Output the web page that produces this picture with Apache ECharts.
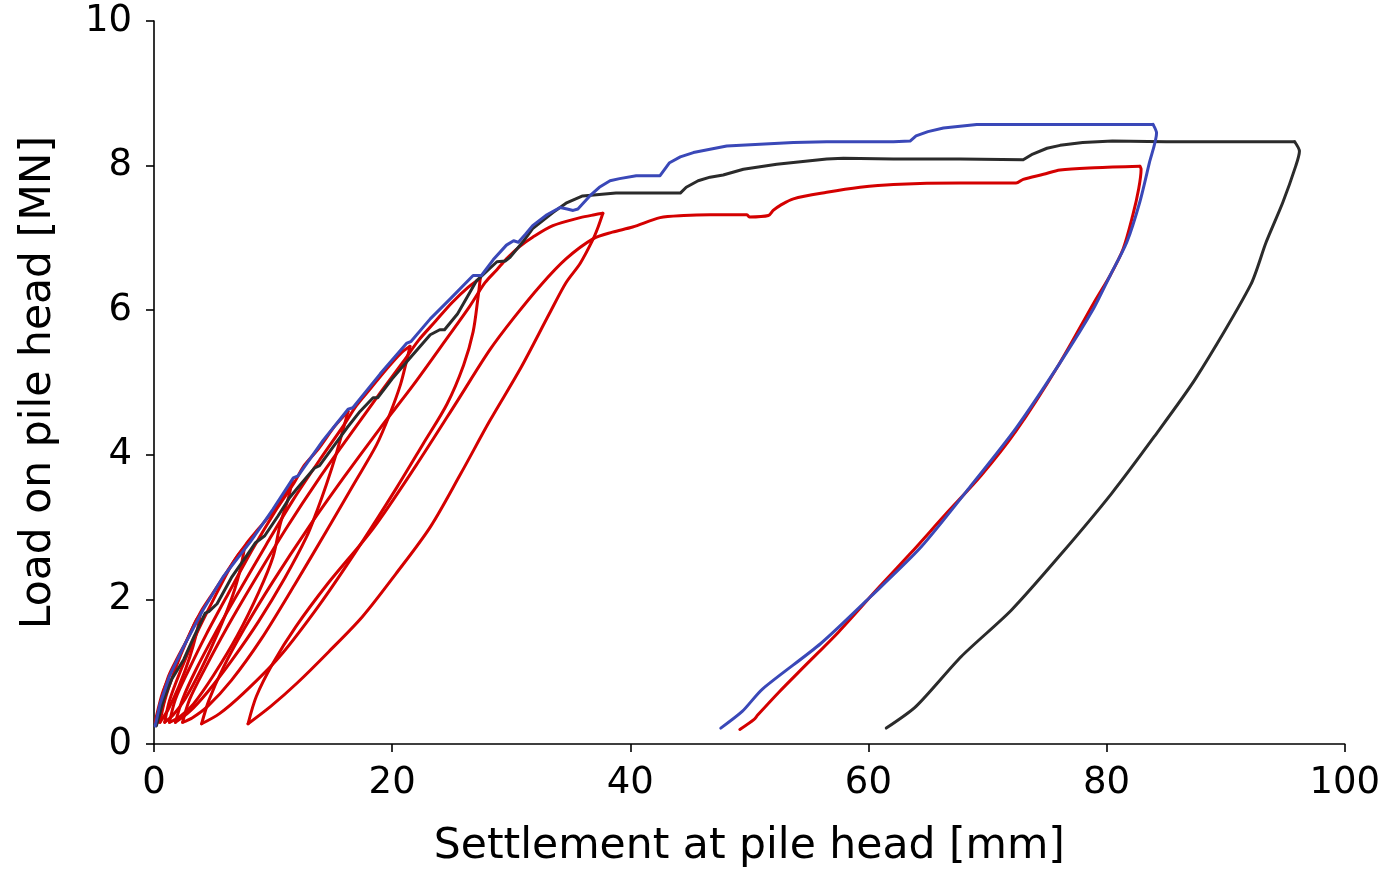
<!DOCTYPE html>
<html>
<head>
<meta charset="utf-8">
<script src="https://cdn.jsdelivr.net/npm/echarts@6/dist/echarts.min.js"></script>
<style>html,body{margin:0;padding:0;background:#fff}#c{width:1383px;height:873px}</style>
</head>
<body>
<div id="c"></div>
<script>
// ---- Data (settlement mm, load MN) ----
const xTicks = [0, 20, 40, 60, 80, 100];
const yTicks = [0, 2, 4, 6, 8, 10];

const blueLoading = [[0.1,0.25],[0.5,0.55],[1.3,0.94],[2.5,1.35],[4.1,1.85],[5.8,2.31],[8.1,2.8],[10,3.25],[11.7,3.68],[12.1,3.71],[14.2,4.2],[16.3,4.63],[16.7,4.65],[19,5.12],[21.2,5.54],[21.6,5.57],[23.2,5.88],[24.9,6.16],[26.8,6.48],[27.5,6.48],[28.5,6.7],[29.6,6.9],[30.2,6.96],[30.6,6.94],[31.2,7.05],[31.8,7.17],[33.0,7.32],[34.1,7.42],[34.7,7.40],[35.2,7.38],[35.6,7.40],[36.6,7.58],[37.4,7.70],[38.3,7.79],[39.1,7.82],[40.5,7.86],[42.5,7.86],[43.3,8.04],[44.2,8.12],[45.3,8.18],[48.1,8.27],[53.7,8.32],[56.5,8.33],[62.1,8.33],[63.5,8.34],[64.0,8.41],[65.0,8.47],[66.3,8.52],[69.1,8.57],[76.1,8.57],[83.9,8.57]];
const blueUnloading = [[83.9,8.57],[84.2,8.45],[83.6,8.04],[82.8,7.50],[81.7,6.94],[80.3,6.48],[78.9,6.02],[76.2,5.30],[72.4,4.37],[68.5,3.55],[64.4,2.72],[60.2,2.04],[56.0,1.39],[51.1,0.76],[49.4,0.45],[47.6,0.22]];

const blackLoading = [[0.2,0.25],[0.8,0.61],[1.5,0.9],[2.5,1.17],[3.4,1.5],[4.3,1.81],[4.6,1.83],[5.3,1.94],[6.5,2.3],[7.8,2.61],[8.5,2.78],[9.3,2.88],[10.4,3.15],[11.4,3.41],[12.0,3.53],[13.5,3.82],[13.9,3.85],[15.0,4.1],[16.2,4.37],[17.3,4.6],[18.4,4.79],[18.8,4.79],[20.0,5.05],[21.5,5.34],[23.2,5.66],[24.0,5.73],[24.4,5.73],[25.5,5.95],[27.1,6.41],[28.8,6.67],[29.5,6.68],[29.9,6.73],[31.0,6.95],[31.8,7.13],[33.5,7.35],[34.6,7.48],[36.0,7.58],[38.8,7.62],[42.5,7.62],[44.2,7.62],[44.7,7.70],[45.7,7.79],[46.7,7.84],[47.8,7.87],[49.5,7.95],[52.3,8.02],[56.5,8.09],[57.9,8.10],[62.1,8.09],[67.7,8.09],[73.0,8.08],[73.8,8.16],[75.0,8.24],[76.1,8.28],[78.0,8.32],[80.5,8.34],[85,8.33],[90,8.33],[95.8,8.33]];
const blackUnloading = [[95.8,8.33],[96.2,8.2],[95.9,8.0],[94.8,7.49],[93.4,6.94],[92.1,6.35],[87.5,5.06],[84.0,4.25],[80.4,3.46],[76.2,2.63],[72.0,1.85],[67.8,1.21],[64.0,0.52],[61.5,0.22]];

const redStart = [[0.1,0.3],[0.3,0.45],[0.7,0.7],[1.2,0.9]];
const redUnload1 = [[1.0,0.7],[0.6,0.45],[0.3,0.3]];
const redReload1 = [[0.6,0.6],[1.2,0.93],[2.0,1.2],[2.8,1.45],[3.5,1.7],[3.9,1.8]];
const redUnload2 = [[3.6,1.55],[3.0,1.2],[2.1,0.8],[1.2,0.48],[0.5,0.3]];
const redReload2 = [[0.9,0.6],[1.7,1.0],[2.8,1.45],[3.9,1.82],[4.8,2.05],[6.0,2.35],[7.0,2.6],[7.6,2.72]];
const redUnload3 = [[7.3,2.45],[6.6,2.05],[5.4,1.55],[4.0,1.05],[2.6,0.62],[1.6,0.4],[0.9,0.3]];
const redReload3 = [[1.3,0.6],[2.2,1.0],[3.5,1.5],[5.0,2.0],[6.6,2.5],[7.8,2.78],[8.8,2.98],[10.0,3.22],[11.0,3.47],[11.6,3.64]];
const redUnload4 = [[11.3,3.41],[10.6,3.04],[10.0,2.59],[8.8,2.1],[7.0,1.5],[5.0,0.95],[3.3,0.55],[2.2,0.38],[1.3,0.3]];
const redReload4 = [[1.8,0.62],[2.9,1.02],[4.4,1.52],[6.3,2.1],[8.3,2.7],[10.3,3.25],[11.8,3.62],[12.6,3.85],[13.8,4.08],[15.2,4.4],[16.3,4.6]];
const redUnload5 = [[16.0,4.42],[15.3,4.01],[14.5,3.60],[13.7,3.23],[12.8,2.86],[11.0,2.3],[8.8,1.7],[6.5,1.15],[4.5,0.72],[3.0,0.45],[1.8,0.3]];
const redReload5 = [[2.4,0.62],[3.5,1.02],[5.1,1.52],[7.1,2.1],[9.4,2.75],[11.7,3.38],[14.0,3.95],[15.9,4.4],[17.0,4.68],[18.2,4.92],[19.5,5.18],[20.7,5.4],[21.5,5.5]];
const redUnload6 = [[21.2,5.29],[20.7,4.97],[19.8,4.56],[18.7,4.14],[16.8,3.6],[14.5,2.95],[11.8,2.2],[9.0,1.45],[6.5,0.88],[4.5,0.52],[3.2,0.36],[2.4,0.3]];
const redReload6 = [[3.0,0.62],[4.3,1.05],[6.1,1.6],[8.4,2.25],[11.1,2.98],[13.9,3.68],[16.7,4.33],[19.1,4.88],[20.9,5.28],[22.2,5.58],[23.6,5.84],[25.0,6.1],[26.4,6.32],[27.4,6.44]];
const redUnload7 = [[27.2,6.16],[26.8,5.70],[26.0,5.24],[24.6,4.70],[22.6,4.15],[20.4,3.55],[17.5,2.8],[14.0,1.95],[10.5,1.2],[7.5,0.7],[5.5,0.42],[4.0,0.28]];
const redReload7 = [[4.6,0.6],[5.8,1.05],[7.6,1.6],[10.0,2.25],[13.0,3.0],[16.0,3.7],[19.0,4.37],[21.8,4.97],[24.6,5.61],[26.5,6.05],[27.8,6.38],[28.8,6.56],[29.6,6.71],[30.7,6.88],[31.8,7.01],[33.5,7.17],[35.8,7.28],[37.0,7.32],[37.7,7.34]];
const redUnload8 = [[37.3,7.15],[36.9,6.99],[35.8,6.65],[34.6,6.38],[33.2,5.95],[30.8,5.2],[28.2,4.47],[25.7,3.72],[23.2,3.0],[20.3,2.35],[17.5,1.76],[14.7,1.28],[12.0,0.84],[9.8,0.52],[7.9,0.28]];
const redReload8 = [[8.6,0.66],[10.0,1.12],[11.9,1.62],[14.6,2.22],[18.4,2.98],[22.0,3.85],[25.5,4.75],[28.2,5.45],[30.2,5.89],[32.5,6.35],[34.6,6.71],[36.9,6.99],[38.5,7.08],[40.2,7.15],[42.5,7.28],[44.5,7.31],[46.7,7.32],[49.8,7.32],[50.0,7.29],[51.6,7.31],[52.0,7.38],[52.6,7.45],[53.7,7.54],[56.5,7.63],[59.3,7.70],[62.1,7.74],[67.7,7.76],[72.4,7.76],[73.0,7.81],[74.7,7.88],[76.1,7.94],[79.0,7.97],[82.8,7.99]];
const redFinalUnload = [[82.9,7.95],[82.7,7.68],[82.2,7.31],[81.4,6.85],[80.3,6.48],[79.0,6.12],[76.0,5.25],[72.4,4.33],[69.5,3.72],[66.5,3.18],[63.5,2.63],[60.9,2.17],[57.5,1.55],[54.6,1.07],[52.5,0.72],[50.7,0.4],[50.4,0.34],[49.2,0.2]];

const redBranches = [redStart, redUnload1, redReload1, redUnload2, redReload2, redUnload3, redReload3,
  redUnload4, redReload4, redUnload5, redReload5, redUnload6, redReload6, redUnload7, redReload7,
  redUnload8, redReload8, redFinalUnload];

const FONT = 'DejaVu Sans';
const RED = '#d40000', BLACK = '#2b2b2b', BLUE = '#3a48b8';
const chart = echarts.init(document.getElementById('c'), null, {renderer: 'canvas'});
function lineSeries(data, color, z, smooth) {
  return {type: 'line', data: data, showSymbol: false, symbol: 'none', z: z, smooth: smooth,
    lineStyle: {color: color, width: 3, join: 'round', cap: 'round'}, animation: false};
}
const series = [];
let prev = null;
redBranches.forEach(function (b) {
  const d = prev ? [prev].concat(b) : b.slice();
  series.push(lineSeries(d, RED, 2, 0.3));
  prev = b[b.length - 1];
});
series.push(lineSeries(blackLoading, BLACK, 3, false));
series.push(lineSeries(blackUnloading, BLACK, 3, 0.25));
series.push(lineSeries(blueLoading, BLUE, 4, false));
series.push(lineSeries(blueUnloading, BLUE, 4, 0.25));

chart.setOption({
  animation: false,
  backgroundColor: '#ffffff',
  grid: {left: 154, right: 38, top: 21, bottom: 125, containLabel: false},
  xAxis: {
    type: 'value', min: xTicks[0], max: xTicks[xTicks.length - 1], interval: 20,
    name: 'Settlement at pile head [mm]', nameLocation: 'middle', nameGap: 81,
    nameTextStyle: {fontSize: 42.5, color: '#000', fontFamily: FONT},
    axisLine: {lineStyle: {color: '#000', width: 1.6}},
    axisTick: {show: true, inside: false, length: 8, lineStyle: {color: '#000', width: 1.6}},
    axisLabel: {fontSize: 37, color: '#000', fontFamily: FONT, margin: 21},
    splitLine: {show: false}
  },
  yAxis: {
    type: 'value', min: yTicks[0], max: yTicks[yTicks.length - 1], interval: 2,
    name: 'Load on pile head [MN]', nameLocation: 'middle', nameGap: 94,
    nameTextStyle: {fontSize: 42.5, color: '#000', fontFamily: FONT},
    axisLine: {show: true, lineStyle: {color: '#000', width: 1.6}},
    axisTick: {show: true, inside: false, length: 8, lineStyle: {color: '#000', width: 1.6}},
    axisLabel: {fontSize: 37, color: '#000', fontFamily: FONT, margin: 22},
    splitLine: {show: false}
  },
  series: series
});
</script>
</body>
</html>
